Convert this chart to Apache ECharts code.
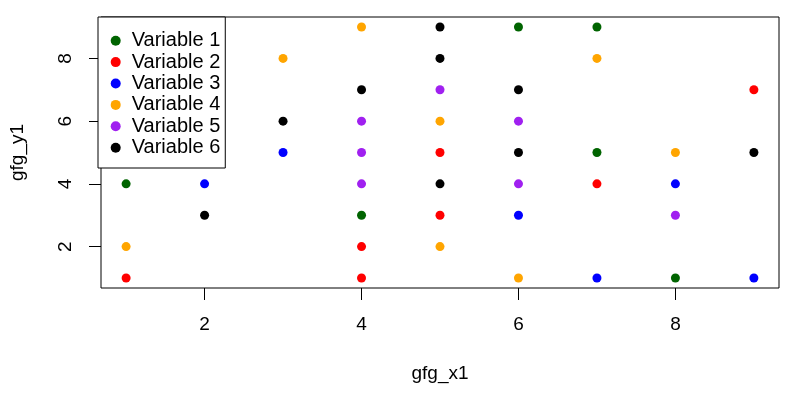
<html>
<head>
<meta charset="UTF-8">
<title>gfg scatter</title>
<script src="https://cdn.jsdelivr.net/npm/echarts@6/dist/echarts.min.js"></script>
<style>
  body { margin: 0; background: #fff; }
  #main { width: 794px; height: 398px; }
</style>
</head>
<body>
<div id="main"></div>
<script>
// points (some may sit under the legend box and are not visible)
var names = ['Variable 1', 'Variable 2', 'Variable 3', 'Variable 4', 'Variable 5', 'Variable 6'];
var colors = ['#006400', '#FF0000', '#0000FF', '#FFA500', '#A020F0', '#000000'];

var v1_x = [1, 4, 6, 7, 7, 8];
var v1_y = [4, 3, 9, 9, 5, 1];
var v2_x = [1, 4, 4, 5, 5, 7, 9];
var v2_y = [1, 2, 1, 5, 3, 4, 7];
var v3_x = [2, 3, 6, 7, 8, 9];
var v3_y = [4, 5, 3, 1, 4, 1];
var v4_x = [1, 3, 4, 5, 5, 6, 7, 8];
var v4_y = [2, 8, 9, 6, 2, 1, 8, 5];
var v5_x = [4, 4, 4, 5, 6, 6, 8];
var v5_y = [6, 5, 4, 7, 6, 4, 3];
var v6_x = [2, 3, 4, 5, 5, 5, 6, 6, 9];
var v6_y = [3, 6, 7, 9, 8, 4, 7, 5, 5];

var xTicks = [2, 4, 6, 8];
var yTicks = [2, 4, 6, 8];

var xs = [v1_x, v2_x, v3_x, v4_x, v5_x, v6_x];
var ys = [v1_y, v2_y, v3_y, v4_y, v5_y, v6_y];

var font = 'Liberation Sans, Arial, sans-serif';

function pairs(x, y) {
  var res = [];
  for (var i = 0; i < x.length; i++) {
    res.push([x[i], y[i]]);
  }
  return res;
}

var series = [];
for (var k = 0; k < names.length; k++) {
  series.push({
    name: names[k],
    type: 'scatter',
    symbol: 'circle',
    symbolSize: 9,
    itemStyle: { color: colors[k], opacity: 1 },
    data: pairs(xs[k], ys[k]),
    emphasis: { disabled: true }
  });
}

var option = {
  animation: false,
  backgroundColor: '#fff',
  grid: {
    left: 98, top: 17, right: 15, bottom: 110,
    show: true, borderColor: '#000', borderWidth: 1, backgroundColor: 'transparent'
  },
  legend: {
    orient: 'vertical',
    left: 98, top: 17,
    padding: [13.7, 5, 10.3, 12.7],
    itemGap: 1.4,
    itemWidth: 10, itemHeight: 10,
    icon: 'circle',
    backgroundColor: '#fff',
    borderColor: '#000', borderWidth: 1, borderRadius: 0,
    // extra left padding on the text widens the dot-to-label gap
    textStyle: { color: '#000', fontSize: 20, lineHeight: 20, fontFamily: font, padding: [0, 0, 0, 6] },
    data: names,
    selectedMode: false
  },
  xAxis: {
    type: 'value',
    min: 0.68, max: 9.32,
    name: 'gfg_x1',
    nameLocation: 'middle',
    nameGap: 76,
    nameTextStyle: { color: '#000', fontSize: 19, fontFamily: font },
    axisLine: { show: false },
    splitLine: { show: false },
    axisTick: { show: true, inside: false, length: 12, customValues: xTicks, lineStyle: { color: '#000' } },
    axisLabel: { customValues: xTicks, margin: 27, color: '#000', fontSize: 19, fontFamily: font }
  },
  yAxis: {
    type: 'value',
    min: 0.68, max: 9.32,
    name: 'gfg_y1',
    nameLocation: 'middle',
    nameGap: 74,
    nameRotate: 90,
    nameTextStyle: { color: '#000', fontSize: 19, fontFamily: font },
    axisLine: { show: false },
    splitLine: { show: false },
    axisTick: { show: true, inside: false, length: 12, customValues: yTicks, lineStyle: { color: '#000' } },
    axisLabel: { customValues: yTicks, rotate: 90, margin: 26, color: '#000', fontSize: 19, fontFamily: font }
  },
  series: series
};

var chart = echarts.init(document.getElementById('main'));
chart.setOption(option);
</script>
</body>
</html>
